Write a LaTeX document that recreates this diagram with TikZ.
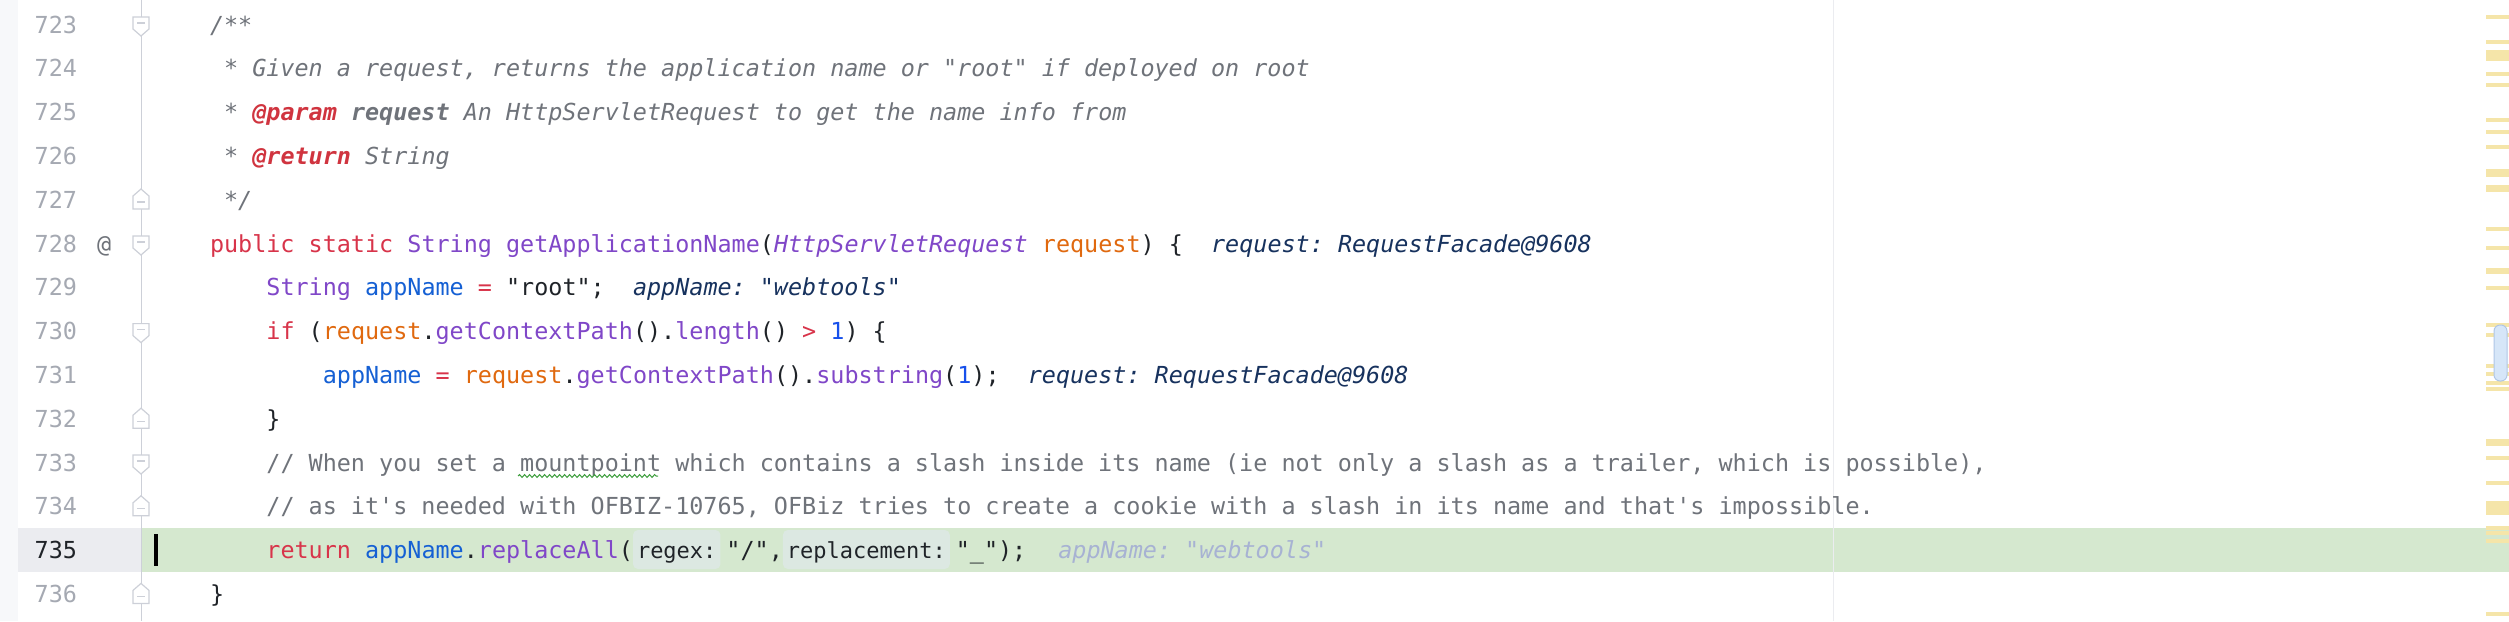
\documentclass[tikz,border=0pt]{standalone}
\usepackage{fontspec}
\setmonofont{DejaVu Sans Mono}
\usetikzlibrary{positioning,decorations.pathmorphing}
\definecolor{kwdColor}{HTML}{D8344A}
\definecolor{typColor}{HTML}{8047C8}
\definecolor{locColor}{HTML}{1560D4}
\definecolor{prmColor}{HTML}{E0690F}
\definecolor{numbColor}{HTML}{1750EB}
\definecolor{txtColor}{HTML}{1F2328}
\definecolor{docColor}{HTML}{6F737A}
\definecolor{tagColor}{HTML}{D0343F}
\definecolor{valColor}{HTML}{17325E}
\definecolor{oldColor}{HTML}{A7B2D3}
\definecolor{numGray}{HTML}{A5A9B2}
\definecolor{foldColor}{HTML}{CDD0D8}
\definecolor{curLine}{HTML}{D5E8CF}
\definecolor{gutterCur}{HTML}{EBECF0}
\definecolor{hintBg}{HTML}{DCE8E2}
\definecolor{markColor}{HTML}{F5E5A9}
\definecolor{thumbColor}{HTML}{D6E6F8}
\definecolor{thumbLine}{HTML}{AFC6E6}
\definecolor{guideColor}{HTML}{EBECF0}
\definecolor{stripColor}{HTML}{F7F8FA}
\definecolor{typoColor}{HTML}{3E9E3E}
\newcommand{\kwd}[1]{\textcolor{kwdColor}{#1}}
\newcommand{\typ}[1]{\textcolor{typColor}{#1}}
\newcommand{\mth}[1]{\textcolor{typColor}{#1}}
\newcommand{\loc}[1]{\textcolor{locColor}{#1}}
\newcommand{\prm}[1]{\textcolor{prmColor}{#1}}
\newcommand{\numb}[1]{\textcolor{numbColor}{#1}}
\newcommand{\dtag}[1]{\textcolor{tagColor}{\textbf{#1}}}
\tikzset{
	fold open/.pic={\filldraw[fill=white,draw=foldColor,line width=0.6pt] (-8,-7) -- (8,-7) -- (8,5) -- (0,12) -- (-8,5) -- cycle;
		\draw[foldColor,line width=0.6pt] (-4,-1) -- (4,-1);},
	fold close/.pic={\filldraw[fill=white,draw=foldColor,line width=0.6pt] (-8,10) -- (8,10) -- (8,-3) -- (0,-10) -- (-8,-3) -- cycle;
		\draw[foldColor,line width=0.6pt] (-4,3) -- (4,3);}
}
\begin{document}
\begin{tikzpicture}[x=0.5pt,y=-0.5pt,
	codeline/.style={anchor=base west,inner sep=0,outer sep=0,font=\ttfamily\fontsize{11.71pt}{14pt}\selectfont\frenchspacing,text=txtColor},
	doc/.style={codeline,font=\ttfamily\itshape\fontsize{11.71pt}{14pt}\selectfont\frenchspacing,text=docColor},
	debugval/.style={codeline,font=\ttfamily\itshape\fontsize{11.71pt}{14pt}\selectfont\frenchspacing,text=valColor},
	oldval/.style={debugval,text=oldColor},
	lineno/.style={codeline,anchor=base east,text=numGray},
	hint/.style={codeline,font=\ttfamily\fontsize{11pt}{14pt}\selectfont,fill=hintBg,rounded corners=2.5pt,inner xsep=2pt,inner ysep=0,text height=14.3pt,text depth=5.2pt}]
	\useasboundingbox (0,0) rectangle (2509,621);
	\fill[white] (0,0) rectangle (2509,621);
	\fill[stripColor] (0,0) rectangle (18,621);
	% current line
	\fill[gutterCur] (18,528) rectangle (141,572);
	\fill[curLine] (141,528) rectangle (2509,572);
	\draw[foldColor,line width=0.5pt] (141,0) -- (141,621);
	\draw[guideColor,line width=0.5pt] (1833,0) -- (1833,621);
	% scrollbar marks
	\foreach \a/\b in {15/19,40/44,50/61,72/76,83/87,118/122,130/134,145/149,169/177,185/192,227/231,246/250,268/274,286/290,
		323/327,333/337,364/368,372/376,381/385,387/391,439/446,456/460,481/485,501/515,526/530,531/535,539/543,612/616}
		\fill[markColor] (2486,\a) rectangle (2509,\b);
	\filldraw[fill=thumbColor,draw=thumbLine,line width=0.5pt,rounded corners=3pt] (2494,325) rectangle (2507,381);
	
	\foreach \n/\y in {723/33,724/76.8,725/120.6,726/164.4,727/208.2,728/252,729/295.8,730/339.6,731/383.4,732/427.2,733/471,734/514.8,736/602.4}
		\node[lineno] (n\n) at (77,\y) {\n};
	\node[lineno,text=txtColor] (n735) at (77,558.6) {735};
	\node[codeline,text=docColor] (at728) at (97,252) {@};
	
	\pic at (141,24) {fold open};
	\pic at (141,199) {fold close};
	\pic at (141,243) {fold open};
	\pic at (141,330.6) {fold open};
	\pic at (141,418.2) {fold close};
	\pic at (141,462) {fold open};
	\pic at (141,505.8) {fold close};
	\pic at (141,593.4) {fold close};
	
	\node[doc] (c723) at (210,33) {/**};
	\node[doc] (c724) at (224.1,76.8) {* Given a request, returns the application name or "root" if deployed on root};
	\node[doc] (c725) at (224.1,120.6) {* \dtag{@param} \textbf{request} An HttpServletRequest to get the name info from};
	\node[doc] (c726) at (224.1,164.4) {* \dtag{@return} String};
	\node[doc] (c727) at (224.1,208.2) {*/};
	\node[codeline] (c728) at (210,252) {\kwd{public static} \typ{String} \mth{getApplicationName}(\textit{\typ{HttpServletRequest}} \prm{request}) \{};
	\node[debugval, base right=14.1pt of c728] (v728) {request: RequestFacade@9608};
	\node[codeline] (c729) at (266.4,295.8) {\typ{String} \loc{appName} \kwd{=} "root";};
	\node[debugval, base right=14.1pt of c729] (v729) {appName: "webtools"};
	\node[codeline] (c730) at (266.4,339.6) {\kwd{if} (\prm{request}.\mth{getContextPath}().\mth{length}() \kwd{>} \numb{1}) \{};
	\node[codeline] (c731) at (322.8,383.4) {\loc{appName} \kwd{=} \prm{request}.\mth{getContextPath}().\mth{substring}(\numb{1});};
	\node[debugval, base right=14.1pt of c731] (v731) {request: RequestFacade@9608};
	\node[codeline] (c732) at (266.4,427.2) {\}};
	\node[codeline,text=docColor] (c733) at (266.4,471) {// When you set a mountpoint which contains a slash inside its name (ie not only a slash as a trailer, which is possible),};
	\node[codeline,text=docColor] (c734) at (266.4,514.8) {// as it's needed with OFBIZ-10765, OFBiz tries to create a cookie with a slash in its name and that's impossible.};
	\node[codeline] (c735) at (266.4,558.6) {\kwd{return} \loc{appName}.\mth{replaceAll}(};
	\node[hint, base right=0pt of c735] (h735a) {regex:};
	\node[codeline, base right=3pt of h735a] (c735b) {"/",};
	\node[hint, base right=0pt of c735b] (h735b) {replacement:};
	\node[codeline, base right=3pt of h735b] (c735c) {"\_");};
	\node[oldval, base right=16pt of c735c] (v735) {appName: "webtools"};
	\node[codeline] (c736) at (210,602.4) {\}};
	
	% typo mark and caret
	\draw[typoColor,line width=0.5pt,decorate,decoration={snake,amplitude=0.7pt,segment length=2.5pt}] (518,476) -- (658,476);
	\fill[black] (154,534) rectangle (157.5,566);
\end{tikzpicture}
\end{document}
